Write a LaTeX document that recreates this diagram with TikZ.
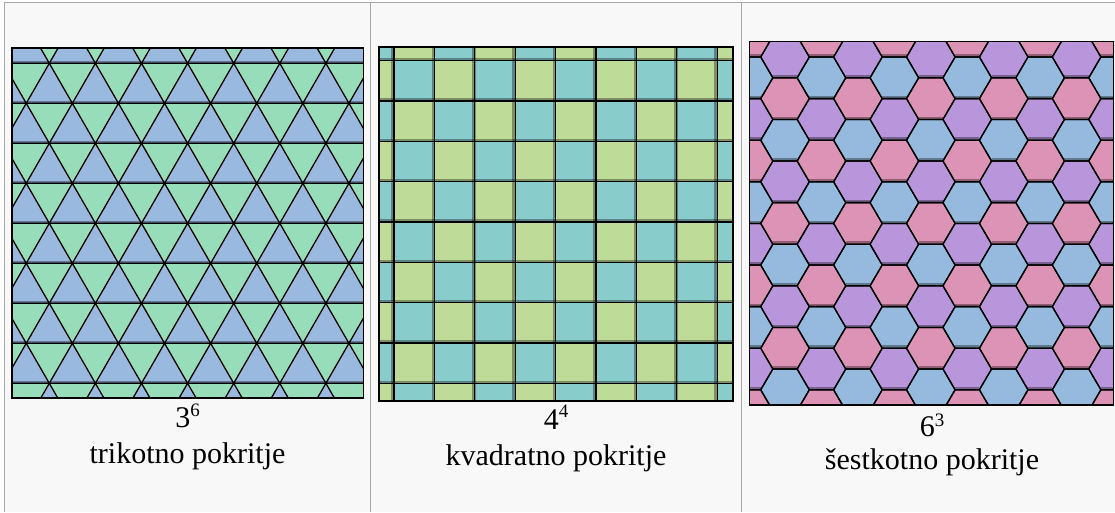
\documentclass[tikz,border=0pt]{standalone}
\usepackage{fontspec}
\setmainfont{Liberation Serif}
\usetikzlibrary{positioning}

\definecolor{tablegray}{HTML}{A8A8A8}
\definecolor{tablebg}{HTML}{F8F8F8}
\definecolor{triblue}{HTML}{99B9DE}
\definecolor{trigreen}{HTML}{98DDB9}
\definecolor{sqcyan}{HTML}{88CCCC}
\definecolor{sqgreen}{HTML}{BEDC98}
\definecolor{hex0}{HTML}{B996DC}
\definecolor{hex1}{HTML}{DD93B5}
\definecolor{hex2}{HTML}{95BADD}

\begin{document}
\begin{tikzpicture}[
        x=1pt, y=-1pt,
        cell/.style={draw=tablegray, line width=1.2pt},
        frame/.style={draw=black, line width=1.3pt},
        tileline/.style={draw=black, line width=1.3pt, line join=round},
        band/.style={draw=black, opacity=0.35, line width=3.5pt},
        sym/.style={anchor=base, inner sep=0pt, font=\fontsize{30}{36}\selectfont},
        capt/.style={anchor=base, inner sep=0pt, font=\fontsize{30}{36}\selectfont}
    ]
    \useasboundingbox (0,0) rectangle (1115,512);
    \fill[white] (0,0) rectangle (1115,512);

    % table
    \fill[tablebg] (4.7,2.7) rectangle (1115,512);
    \draw[cell] (4.7,512) -- (4.7,2.7) -- (1115,2.7);
    \draw[cell] (370.7,2.7) -- (370.7,512);
    \draw[cell] (741.7,2.7) -- (741.7,512);

    % 3^6
    \begin{scope}
        \clip (12,48) rectangle (363.7,398);
        \fill[trigreen] (12,48) rectangle (363.7,398);
        \foreach \j in {-1,...,8}
            \foreach \i in {-6,...,8}
                \filldraw[fill=triblue, tileline] ({49.3+23.05*\j+46.1*\i},{63.3+40*\j}) -- ++(23.05,40) -- ++(-46.1,0) -- cycle;
        \foreach \j in {-1,...,9} {
            \draw[band] (12,{62.3+40*\j}) -- (364,{62.3+40*\j});
            \draw[tileline] (12,{63.3+40*\j}) -- (364,{63.3+40*\j});
        }
    \end{scope}
    \draw[frame] (12,48) rectangle (363.7,398);

    % 4^4
    \begin{scope}
        \clip (379,47) rectangle (733,401);
        \foreach \k in {-1,...,8}
            \foreach \m in {-1,...,8} {
                \ifodd\numexpr\k+\m\relax \def\sqcol{sqgreen}\else \def\sqcol{sqcyan}\fi
                \fill[\sqcol] ({394+40.4*\k},{60.7+40.33*\m}) rectangle ++(40.4,40.33);
            }
        \foreach \k in {0,...,8} {
            \draw[band] ({393+40.4*\k},47) -- ({393+40.4*\k},401);
            \draw[tileline] ({394+40.4*\k},47) -- ({394+40.4*\k},401);
        }
        \foreach \m in {0,...,8} {
            \draw[band] (379,{59.7+40.33*\m}) -- (733,{59.7+40.33*\m});
            \draw[tileline] (379,{60.7+40.33*\m}) -- (733,{60.7+40.33*\m});
        }
    \end{scope}
    \draw[frame] (379,47) rectangle (733,401);

    % 6^3
    \begin{scope}
        \clip (749.7,41.7) rectangle (1113.5,405);
        \foreach \k in {-1,...,10}
            \foreach \m in {-2,...,18} {
                \ifodd\numexpr\k+\m\relax\else
                    \pgfmathtruncatemacro\hc{mod((\m+3*\k)/2+30,3)}
                    \fill[hex\hc] ({785+36.45*\k-24.3},{57+20.8*\m}) -- ++(12.15,-20.8) -- ++(24.3,0) -- ++(12.15,20.8) -- ++(-12.15,20.8) -- ++(-24.3,0) -- cycle;
                \fi
            }
        \foreach \k in {-1,...,10}
            \foreach \m in {-2,...,18} {
                \ifodd\numexpr\k+\m\relax\else
                    \draw[band] ({785+36.45*\k-12.15},{56+20.8*\m-20.8}) -- ++(24.3,0);
                    \draw[tileline] ({785+36.45*\k-24.3},{57+20.8*\m}) -- ++(12.15,-20.8) -- ++(24.3,0) -- ++(12.15,20.8) -- ++(-12.15,20.8) -- ++(-24.3,0) -- cycle;
                \fi
            }
    \end{scope}
    \draw[frame] (749.7,41.7) rectangle (1113.5,405);

    % texts
    \node[sym] (symtri) at (187.7,427) {3\raisebox{11pt}{\fontsize{19}{19}\selectfont 6}};
    \node[capt] (captri) at (187.5,463) {trikotno pokritje};
    \node[sym] (symsq) at (556,429) {4\raisebox{12pt}{\fontsize{19}{19}\selectfont 4}};
    \node[capt] (capsq) at (556,465) {kvadratno pokritje};
    \node[sym] (symhex) at (932,436.5) {6\raisebox{10pt}{\fontsize{19}{19}\selectfont 3}};
    \node[capt] (caphex) at (932,469) {šestkotno pokritje};

\end{tikzpicture}
\end{document}
